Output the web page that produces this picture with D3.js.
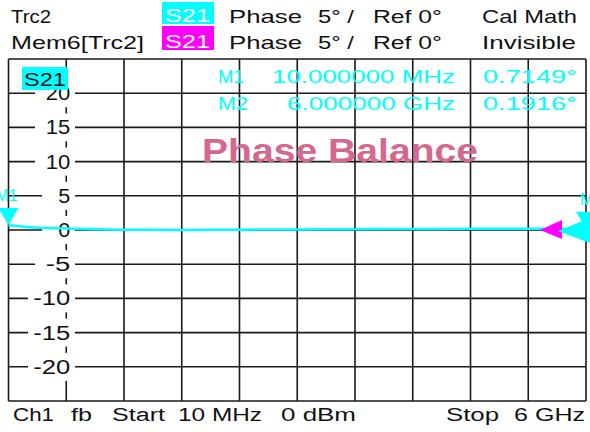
<!DOCTYPE html>
<meta charset="utf-8">
<style>
body { margin: 0; background: #fff; }
svg { display: block; font-family: "Liberation Sans", Arial, sans-serif; }
</style>
<body>
<div id="chart"></div>
<script src="https://d3js.org/d3.v7.min.js"></script>
<script>

var width = 590,
    height = 432;

// sweep, in GHz, and the phase balance trace (deg)
var freqGHz = [0.01, 0.3, 0.6, 0.9, 1.2, 1.5, 1.8, 2.1, 2.4, 2.7, 3.0,
               3.3, 3.6, 3.9, 4.2, 4.5, 4.8, 5.1, 5.4, 5.7, 6.0];
var phaseDeg = [0.71, 0.32, 0.22, 0.12, 0.05, 0.02, 0.0, 0.02, 0.05, 0.06, 0.08,
                0.1, 0.12, 0.14, 0.15, 0.16, 0.17, 0.18, 0.18, 0.19, 0.19];
var yTicks = [20, 15, 10, 5, 0, -5, -10, -15, -20];
var markers = [
    {name: "M1", freq: 0.01, value: 0.7149, freqText: "10.000000 MHz", valText: "0.7149°"},
    {name: "M2", freq: 6.0, value: 0.1916, freqText: "6.000000 GHz", valText: "0.1916°"}
];

var x = d3.scaleLinear().domain([0.01, 6]).range([8.5, 586]);
var y = d3.scaleLinear().domain([-25, 25]).range([401, 59]);

var svg = d3.select("#chart").append("svg")
    .attr("width", width)
    .attr("height", height);

function txt(s, px, py, size, w, col, anchor, weight) {
    var t = svg.append("text")
        .attr("x", px).attr("y", py)
        .attr("font-size", size)
        .attr("fill", col || "#111")
        .text(s);
    if (w) t.attr("textLength", w).attr("lengthAdjust", "spacingAndGlyphs");
    if (anchor) t.attr("text-anchor", anchor);
    if (weight) t.attr("font-weight", weight);
    return t;
}

/* header */
svg.append("rect").attr("x", 162).attr("y", 2).attr("width", 52).attr("height", 22).attr("fill", "#00ffff");
svg.append("rect").attr("x", 162).attr("y", 26).attr("width", 52).attr("height", 24).attr("fill", "#ff00ff");
txt("Trc2", 11, 23, 19, 40);
txt("S21", 165, 22, 19, 45, "#fff");
txt("Phase", 229, 23, 19, 73);
txt("5° /", 318, 23, 19, 36);
txt("Ref 0°", 373, 23, 19, 69);
txt("Cal Math", 482, 23, 19, 95);
txt("Mem6[Trc2]", 11, 49, 19, 133);
txt("S21", 165, 48, 19, 45, "#fff");
txt("Phase", 229, 49, 19, 73);
txt("5° /", 318, 49, 19, 36);
txt("Ref 0°", 373, 49, 19, 69);
txt("Invisible", 482, 49, 19, 94);

/* grid */
var xGrid = d3.range(11).map(function(i) { return 0.01 + i * (6 - 0.01) / 10; });
var yGrid = d3.range(-25, 26, 5);
var grid = svg.append("g").attr("stroke", "#1a1a1a").attr("stroke-width", 1.6);
grid.selectAll(".vl").data(xGrid).enter().append("line")
    .attr("x1", function(d) { return x(d); }).attr("x2", function(d) { return x(d); })
    .attr("y1", y(25)).attr("y2", y(-25));
grid.selectAll(".hl").data(yGrid).enter().append("line")
    .attr("x1", x.range()[0]).attr("x2", x.range()[1])
    .attr("y1", function(d) { return y(d); }).attr("y2", function(d) { return y(d); });

/* y tick labels on the second vertical line, with white backgrounds */
var labX = x(xGrid[1]) + 4;
var labels = svg.append("g");
labels.selectAll("rect").data(yTicks).enter().append("rect")
    .attr("x", function(d) { var n = String(d).length; return 75 - (26 + 7 * n); })
    .attr("width", function(d) { var n = String(d).length; return 26 + 7 * n; })
    .attr("y", function(d) { return y(d) - 14; })
    .attr("height", 28)
    .attr("fill", "#fff");
labels.selectAll("text").data(yTicks).enter().append("text")
    .attr("x", labX)
    .attr("y", function(d) { return y(d) + 7; })
    .attr("text-anchor", "end")
    .attr("font-size", 20)
    .attr("fill", "#111")
    .attr("textLength", function(d) { return String(d).length * 12.5 - 0.5; })
    .attr("lengthAdjust", "spacingAndGlyphs")
    .text(function(d) { return d; });

/* S21 trace tag */
svg.append("rect").attr("x", 22).attr("y", 67).attr("width", 46).attr("height", 23).attr("fill", "#00ffff");
txt("S21", 24, 86, 19, 42, "#111");

/* marker readout */
markers.forEach(function(m, i) {
    var by = 83 + i * 27;
    txt(m.name, 218, by, 18, i ? 30 : 26, "#00ffff");
    txt(m.freqText, 455, by, 18, i ? 168 : 183, "#00ffff", "end");
    txt(m.valText, 483, by, 18, 94, "#00ffff");
});

/* title */
txt("Phase Balance", 202, 162, 33, 276, "#d4688e", null, "bold");

/* trace */
var line = d3.line()
    .x(function(d, i) { return x(freqGHz[i]); })
    .y(function(d) { return y(d); });
svg.append("path")
    .datum(phaseDeg)
    .attr("fill", "none")
    .attr("stroke", "#00ffff")
    .attr("stroke-width", 2.5)
    .attr("d", line);

/* reference level arrows at right edge */
var ry = y(0);
svg.append("path")
    .attr("d", "M540," + ry + "L562," + (ry - 10) + "L562," + (ry + 9) + "Z")
    .attr("fill", "#ff00ff");
svg.append("path")
    .attr("d", "M558," + (ry + 1) + "L590," + (ry - 12) + "L590," + (ry + 13) + "Z")
    .attr("fill", "#00ffff");

/* marker triangles */
markers.forEach(function(m) {
    var mx = x(m.freq), my = y(m.value);
    svg.append("path")
        .attr("d", "M" + mx + "," + my + "L" + (mx - 10) + "," + (my - 17) + "L" + (mx + 10) + "," + (my - 17) + "Z")
        .attr("fill", "#00ffff");
    txt(m.name, mx - (m.freq < 1 ? 13 : -16), my - 24, 16, 22, "#00ffff", m.freq < 1 ? null : "end");
});

/* footer */
txt("Ch1", 13, 421, 18, 41);
txt("fb", 71, 421, 18, 21);
txt("Start", 112, 421, 18, 53);
txt("10 MHz", 178, 421, 18, 84);
txt("0 dBm", 281, 421, 18, 75);
txt("Stop", 446, 421, 18, 53);
txt("6 GHz", 514, 421, 18, 71);

</script>
